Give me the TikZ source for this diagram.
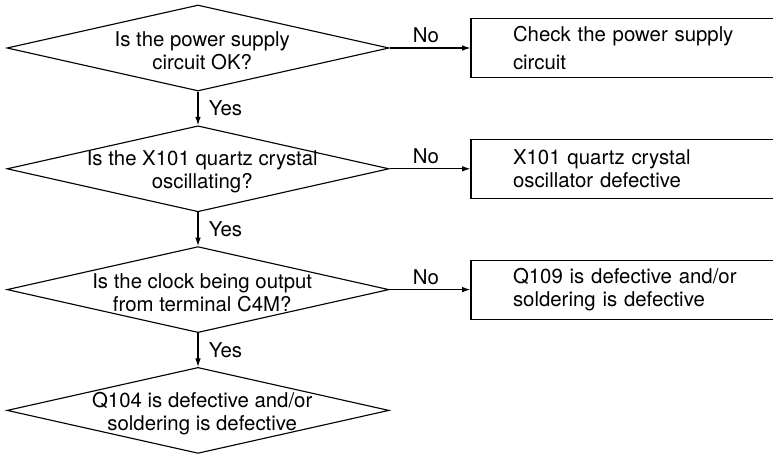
\documentclass[tikz,border=0pt]{standalone}
\usepackage{fontspec}
\setmainfont{TeX Gyre Heros}
\usetikzlibrary{shapes,arrows.meta,positioning}
\tikzstyle{decision} = [draw, diamond, inner sep=0pt, minimum width=9.55cm, minimum height=2.15cm]
\tikzstyle{question} = [align=center, inner sep=0pt, yshift=-2pt, xshift=3pt]
\tikzstyle{block} = [draw, rectangle, minimum width=8cm, minimum height=1.475cm, text width=5.9cm, inner xsep=1.05cm, align=left]

\begin{document}
\begin{tikzpicture}[>={Latex[length=6pt,width=4pt]}, node distance=3.02cm, line width=0.8pt,
    font=\fontsize{14.5}{16.5}\selectfont]
    \useasboundingbox (0,0) rectangle (19.325,-11.35);
    \clip (0,0) rectangle (19.325,-11.35);
    % Drawing questions
    \node [decision] (q1) at (4.95,-1.2) {};
    \node [decision, below of=q1] (q2) {};
    \node [decision, below of=q2] (q3) {};
    \node [decision, below of=q3] (q4) {};
    \node [question] (t1) at (q1) {Is the power supply\\circuit OK?};
    \node [question] (t2) at (q2) {Is the X101 quartz crystal\\oscillating?};
    \node [question] (t3) at (q3) {Is the clock being output\\from terminal C4M?};
    \node [question] (t4) at (q4) {Q104 is defective and/or\\soldering is defective};

    % Drawing remedies
    \node [block, right of=q1, node distance=10.825cm] (r1) {Check the power supply\\[4pt]circuit};
    \node [block, right of=q2, node distance=10.825cm] (r2) {X101 quartz crystal\\oscillator defective};
    \node [block, right of=q3, node distance=10.825cm] (r3) {Q109 is defective and/or\\soldering is defective};

    % Connectors
    \draw [->] (q1) -- node [right, xshift=4pt] {Yes} (q2);
    \draw [->] (q2) -- node [right, xshift=4pt] {Yes} (q3);
    \draw [->] (q3) -- node [right, xshift=4pt] {Yes} (q4);
    \draw [->] (q1) -- node [above, pos=0.45] {No} (r1);
    \draw [->] (q2) -- node [above, pos=0.45] {No} (r2);
    \draw [->] (q3) -- node [above, pos=0.45] {No} (r3);
\end{tikzpicture}
\end{document}
